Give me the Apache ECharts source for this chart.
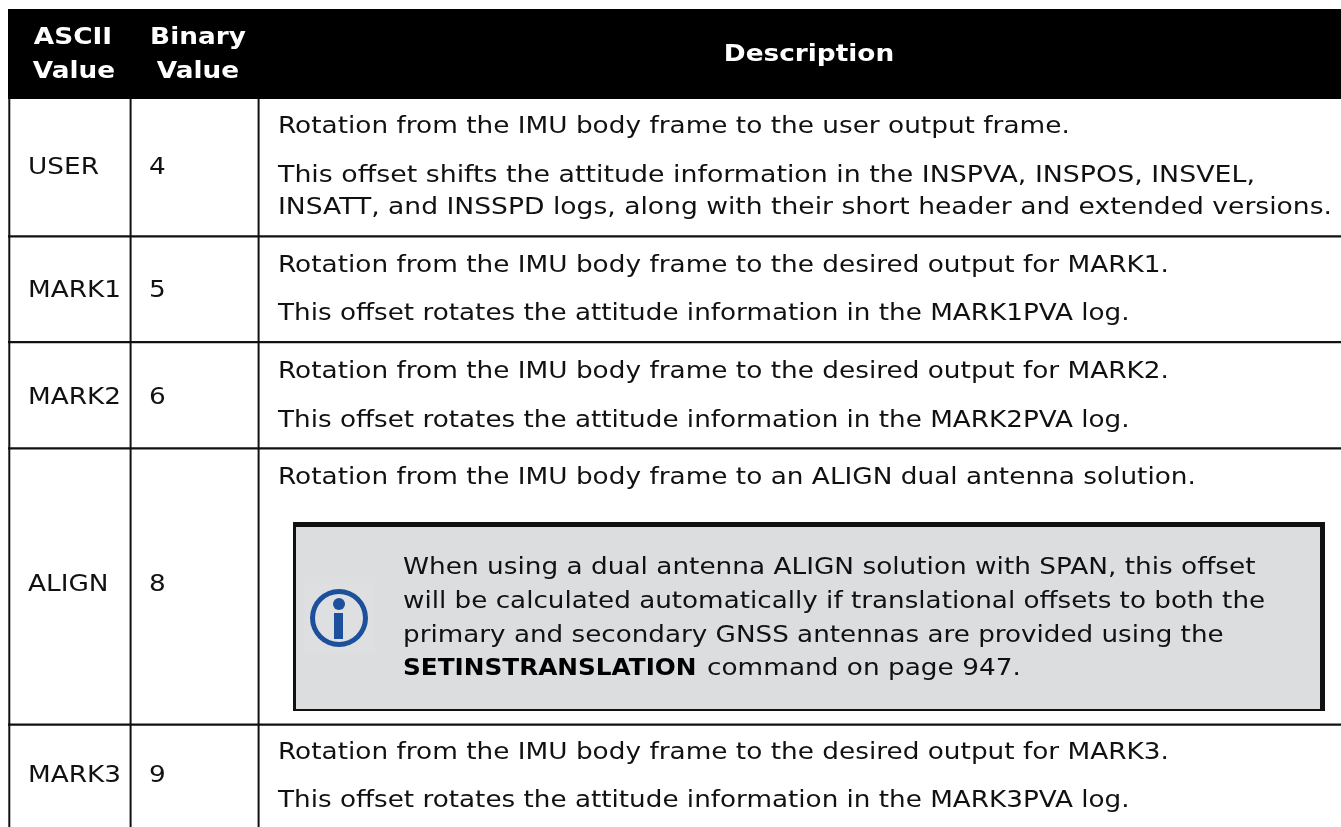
<!DOCTYPE html>
<html>
<head>
<meta charset="utf-8">
<style>
html, body { margin: 0; padding: 0; background: #fff; }
#main { width: 1341px; height: 827px; }
</style>
<script src="https://cdn.jsdelivr.net/npm/echarts@6/dist/echarts.min.js"></script>
</head>
<body>
<div id="main"></div>
<script>
const headers = [['ASCII', 'Value'], ['Binary', 'Value'], ['Description']];
const asciiValues = ['USER', 'MARK1', 'MARK2', 'ALIGN', 'MARK3'];
const binaryValues = ['4', '5', '6', '8', '9'];
const descriptions = [
    ['Rotation from the IMU body frame to the user output frame.',
     'This offset shifts the attitude information in the INSPVA, INSPOS, INSVEL,',
     'INSATT, and INSSPD logs, along with their short header and extended versions.'],
    ['Rotation from the IMU body frame to the desired output for MARK1.',
     'This offset rotates the attitude information in the MARK1PVA log.'],
    ['Rotation from the IMU body frame to the desired output for MARK2.',
     'This offset rotates the attitude information in the MARK2PVA log.'],
    ['Rotation from the IMU body frame to an ALIGN dual antenna solution.'],
    ['Rotation from the IMU body frame to the desired output for MARK3.',
     'This offset rotates the attitude information in the MARK3PVA log.']
];
const noteLines = [
    'When using a dual antenna ALIGN solution with SPAN, this offset',
    'will be calculated automatically if translational offsets to both the',
    'primary and secondary GNSS antennas are provided using the'
];
const noteBold = 'SETINSTRANSLATION';
const noteTail = 'command on page 947.';

// layout, px
const font = 'DejaVu Sans';
const fontSize = 23;
const stretch = 1.145;       // DejaVu is narrower than the Verdana of the original
const textColor = '#111';
const colLines = [8.3, 129.6, 257.6];
const rowLines = [235.2, 341, 447.3, 723.5];
const rowCenters = [168, 291, 398, 585, 776];
const descY = [[127, 176, 208], [266, 314], [372, 421], [478], [753, 801]];
const descFit = [[1, 1.018, 1.009], [1, 0.996], [1, 0.996], [1], [1, 0.996]];
const noteY = [568, 602, 636, 669];
const noteFit = [1, 0.995, 0.995];
const iconBlue = '#1c4f9c';

function label(text, x, y, opts, sx) {
    return {
        type: 'text',
        silent: true,
        x: x,
        y: y,
        scaleX: sx || stretch,
        style: Object.assign({
            x: 0, y: 0, text: text,
            fill: textColor,
            fontFamily: font,
            fontSize: fontSize,
            align: 'left',
            verticalAlign: 'middle'
        }, opts || {})
    };
}
function box(x, y, w, h, fill) {
    return { type: 'rect', silent: true, shape: { x: x, y: y, width: w, height: h }, style: { fill: fill } };
}

let els = [];

// header band
els.push(box(8, 9, 1333, 90, '#000'));
const headBold = { fill: '#fff', fontWeight: 'bold', align: 'center' };
els.push(label(headers[0][0], 73, 38, headBold), label(headers[0][1], 74, 72, headBold));
els.push(label(headers[1][0], 198, 38, headBold), label(headers[1][1], 198, 72, headBold));
els.push(label(headers[2][0], 809, 55, headBold));

// grid lines
colLines.forEach(x => els.push(box(x, 99, 2, 728, '#111')));
rowLines.forEach(y => els.push(box(8, y, 1333, 2.2, '#111')));

// rows
asciiValues.forEach((v, i) => {
    els.push(label(v, 28, rowCenters[i]));
    els.push(label(binaryValues[i], 149, rowCenters[i]));
    descriptions[i].forEach((line, j) => els.push(label(line, 278, descY[i][j], null, stretch * descFit[i][j])));
});

// note box
els.push(box(293, 522, 1032, 189, '#111'));
els.push(box(296, 527, 1024, 182, '#dcdddf'));
els.push(box(304, 583, 71, 70, '#dedfe1'));
els.push({ type: 'ring', silent: true, shape: { cx: 339, cy: 618, r: 29, r0: 24 }, style: { fill: iconBlue } });
els.push({ type: 'circle', silent: true, shape: { cx: 339, cy: 604, r: 6 }, style: { fill: iconBlue } });
els.push(box(334, 613, 9, 26, iconBlue));
noteLines.forEach((line, i) => els.push(label(line, 403, noteY[i], null, stretch * noteFit[i])));
els.push(label(noteBold, 403, noteY[3], { fontWeight: 'bold', fill: '#000' }, 1.075));
els.push(label(noteTail, 707, noteY[3]));

let chart = echarts.init(document.getElementById('main'));
chart.setOption({
    backgroundColor: '#fff',
    animation: false,
    graphic: { elements: els }
});
</script>
</body>
</html>
